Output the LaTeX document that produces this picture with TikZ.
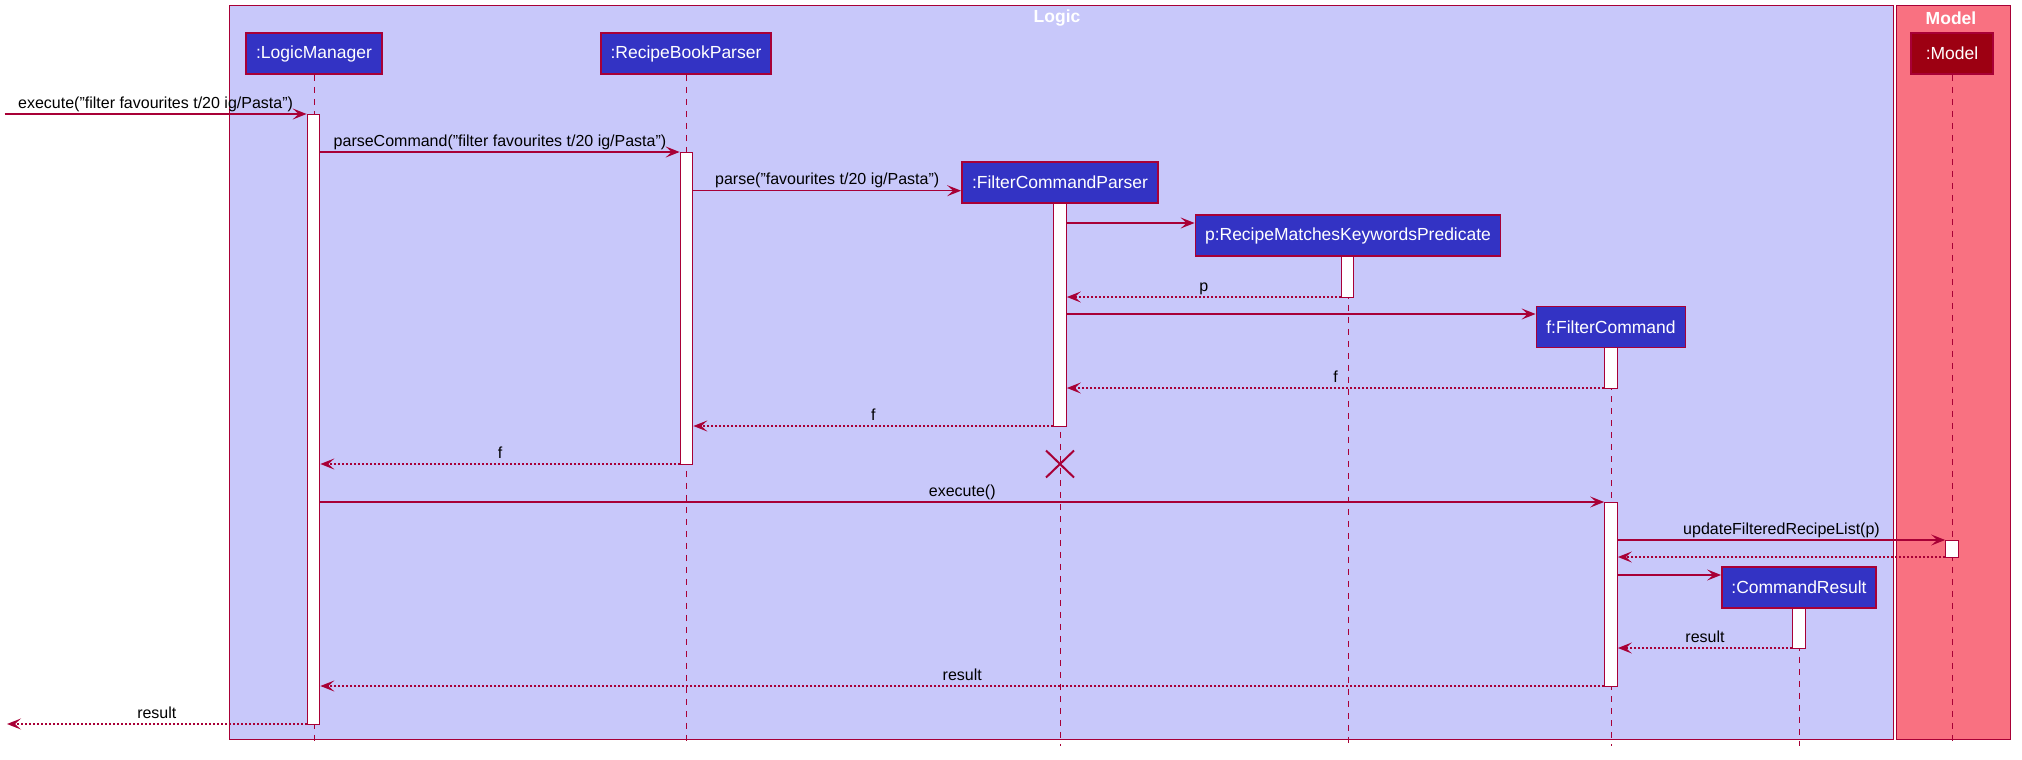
\documentclass[tikz,border=0pt]{standalone}
\usepackage{fontspec}
\setmainfont{Liberation Sans}
\usetikzlibrary{arrows.meta,shapes.misc}
\definecolor{crim}{HTML}{A80036}
\definecolor{logicT}{HTML}{C8C8FA}
\definecolor{modelT}{HTML}{F97181}
\definecolor{logicC}{HTML}{3333C4}
\definecolor{modelC}{HTML}{9D0012}
\pgfdeclarelayer{bg}
\pgfsetlayers{bg,main}
\tikzset{
  frm/.style={draw=crim, line width=1pt, inner sep=0pt, anchor=north west},
  part/.style={draw=crim, line width=1.8pt, fill=logicC, text=white,
    font=\fontsize{17.5}{20}\selectfont, inner sep=0pt, minimum height=41pt},
  act/.style={draw=crim, fill=white, line width=1.2pt, inner sep=0pt,
    minimum width=12.5pt, anchor=north},
  life/.style={draw=crim, line width=1pt, dash pattern=on 6pt off 6pt},
  msg/.style={draw=crim, line width=1.4pt, -{Stealth[length=14pt,width=11pt,inset=6pt]}},
  ret/.style={msg, dash pattern=on 2pt off 2pt},
  lbl/.style={font=\fontsize{16}{19}\selectfont, anchor=base, inner sep=0pt, yshift=6pt, midway},
  ttl/.style={font=\bfseries\fontsize{17.5}{20}\selectfont, text=white, inner sep=0pt},
}
\begin{document}
\begin{tikzpicture}[x=1pt,y=-1pt]
\useasboundingbox (0,0) rectangle (2022,760);
% level coordinates
\coordinate (lend) at (0,746);
\foreach \n/\y in {1/114,2/152,3/190.7,4/223,5/297,6/314,7/388,8/426,9/464,10/502,11/540,12/557,13/575,14/648,15/686,16/724}
  \coordinate (r\n) at (0,\y);
\coordinate (inL) at (4.5,114);
\coordinate (outL) at (7,724);
% participants
\node[part, minimum width=136pt] (pLM) at (314,53.5) {:LogicManager};
\node[part, minimum width=170pt] (pRBP) at (686,53.5) {:RecipeBookParser};
\node[part, minimum width=82pt, fill=modelC] (pM) at (1952,53.5) {:Model};
\node[part, minimum width=196pt] (pFCP) at (1060,182.5) {:FilterCommandParser};
\node[part, minimum width=305pt] (pPred) at (1348,235.5) {p:RecipeMatchesKeywordsPredicate};
\node[part, minimum width=149pt] (pFC) at (1611,327) {f:FilterCommand};
\node[part, minimum width=154pt] (pCR) at (1799,587.5) {:CommandResult};
\begin{pgfonlayer}{bg}
% frames
\node[frm, fill=logicT, minimum width=1664pt, minimum height=734pt] (fLogic) at (229,5) {};
\node[frm, fill=modelT, minimum width=114pt, minimum height=734pt] (fModel) at (1896,5) {};
\node[ttl] (tLogic) at (1057,18) {Logic};
\node[ttl] (tModel) at (1951,18) {Model};
% lifelines
\foreach \p in {pLM,pRBP,pM,pFCP,pPred,pFC,pCR}
  \draw[life] (\p.south) -- (\p.south |- lend);
\end{pgfonlayer}
% activations
\node[act, minimum height=610pt] (aLM) at (313.5,114) {};
\node[act, minimum height=312pt] (aRBP) at (686.5,152) {};
\node[act, minimum height=223pt] (aFCP) at (1060,203) {};
\node[act, minimum height=41pt] (aPred) at (1347.5,256) {};
\node[act, minimum height=41pt] (aFC1) at (1611,347) {};
\node[act, minimum height=184pt] (aFC2) at (1611,502) {};
\node[act, minimum height=17pt] (aM) at (1952,540) {};
\node[act, minimum height=40pt] (aCR) at (1799,608) {};
% messages
\draw[msg] (inL) -- node[lbl] {execute("filter favourites t/20 ig/Pasta")} (aLM.west |- r1);
\draw[msg] (aLM.east |- r2) -- node[lbl] {parseCommand("filter favourites t/20 ig/Pasta")} (aRBP.west |- r2);
\draw[msg] (aRBP.east |- r3) -- node[lbl] {parse("favourites t/20 ig/Pasta")} (pFCP.west |- r3);
\draw[msg] (aFCP.east |- r4) -- (pPred.west |- r4);
\draw[ret] (aPred.west |- r5) -- node[lbl] {p} (aFCP.east |- r5);
\draw[msg] (aFCP.east |- r6) -- (pFC.west |- r6);
\draw[ret] (aFC1.west |- r7) -- node[lbl] {f} (aFCP.east |- r7);
\draw[ret] (aFCP.west |- r8) -- node[lbl] {f} (aRBP.east |- r8);
\draw[ret] (aRBP.west |- r9) -- node[lbl] {f} (aLM.east |- r9);
\node[draw=crim, cross out, line width=2pt, minimum width=26pt, minimum height=25pt, inner sep=0pt] (xFCP) at (1060,464) {};
\draw[msg] (aLM.east |- r10) -- node[lbl] {execute()} (aFC2.west |- r10);
\draw[msg] (aFC2.east |- r11) -- node[lbl] {updateFilteredRecipeList(p)} (aM.west |- r11);
\draw[ret] (aM.west |- r12) -- (aFC2.east |- r12);
\draw[msg] (aFC2.east |- r13) -- (pCR.west |- r13);
\draw[ret] (aCR.west |- r14) -- node[lbl] {result} (aFC2.east |- r14);
\draw[ret] (aFC2.west |- r15) -- node[lbl] {result} (aLM.east |- r15);
\draw[ret] (aLM.west |- r16) -- node[lbl] {result} (outL);
\end{tikzpicture}
\end{document}
